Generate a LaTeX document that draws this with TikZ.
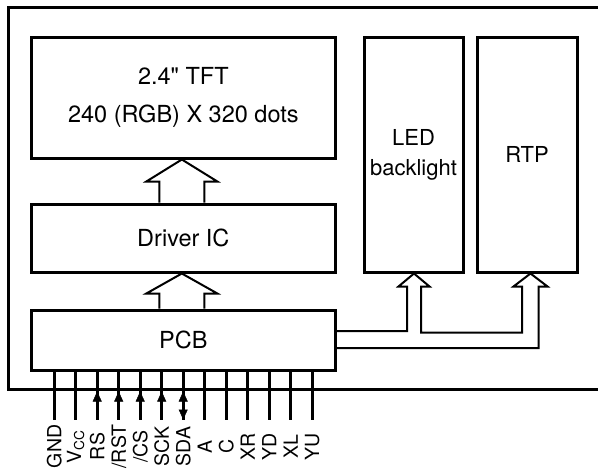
\documentclass[tikz,border=0pt]{standalone}
\usepackage{fontspec}
\setmainfont{TeX Gyre Heros}[Ligatures=TeXOff]
\usetikzlibrary{arrows.meta,calc}
\begin{document}
\begin{tikzpicture}[x=1pt,y=-1pt,
  box/.style={draw, line width=3pt, inner sep=0pt, align=center, font=\fontsize{23.5}{30}\selectfont},
  tallbox/.style={box, font=\fontsize{22}{30}\selectfont},
  pipe/.style={draw, line width=2pt, line join=miter},
  frameline/.style={line width=3pt, line join=miter},
  pinline/.style={line width=3pt},
  pinlab/.style={rotate=90, inner sep=0pt, font=\fontsize{19.5}{21}\selectfont},
  tri/.style={line width=0.5pt, -{Triangle[length=10pt,width=9pt]}}]
\fill[white] (0,0) rectangle (598,469);
\useasboundingbox (0,0) rectangle (598,469);
% outer frame
\draw[frameline] (598,7) -- (8,7) -- (8,389) -- (598,389);
% boxes
\node[box, minimum width=303.3pt, minimum height=121pt, font=\fontsize{23.5}{38.7}\selectfont] (tft) at (183.35,97.5) {2.4" TFT\\240 (RGB) X 320 dots};
\node[box, minimum width=303.3pt, minimum height=68pt] (drv) at (183.35,238) {Driver IC};
\node[box, minimum width=303.3pt, minimum height=60pt] (pcb) at (183.35,340) {PCB};
\node[tallbox, minimum width=99pt, minimum height=235pt] (led) at (413.5,154.5) {LED\\backlight};
\node[tallbox, minimum width=100pt, minimum height=235pt] (rtp) at (527,154.5) {RTP};
% hollow arrows
\draw[pipe] ($(drv.north)+(-24,0)$) |- ($(tft.south)+(-37,22)$) -- ($(tft.south)+(-1.5,0)$) -- ($(tft.south)+(34,22)$) -| ($(drv.north)+(21,0)$);
\draw[pipe] ($(pcb.north)+(-24,0)$) |- ($(drv.south)+(-37,20)$) -- ($(drv.south)+(-1.5,0)$) -- ($(drv.south)+(34,20)$) -| ($(pcb.north)+(21,0)$);
\draw[pipe] ($(pcb.east)+(0,-9)$) -| ($(led.south)+(-6.5,13)$)
  -- ($(led.south)+(-15,13)$) -- ($(led.south)+(0.5,0)$) -- ($(led.south)+(16,13)$)
  -- ($(led.south)+(7.5,13)$) |- ($(rtp.south)+(-5,59)$)
  -- ($(rtp.south)+(-5,13)$) -- ($(rtp.south)+(-13.5,13)$) -- ($(rtp.south)+(3.5,0)$)
  -- ($(rtp.south)+(20.5,13)$) -- ($(rtp.south)+(11.5,13)$) |- ($(pcb.east)+(0,8)$);
% pins
\foreach \lab [count=\i] in {GND,{V\textsubscript{CC}},RS,/RST,/CS,SCK,SDA,A,C,XR,YD,XL,YU} {
  \pgfmathsetmacro\px{24+21.5*(\i-1)}
  \coordinate (pt\i) at ($(pcb.south west)+(\px,0)$);
  \coordinate (pb\i) at ($(pt\i)+(0,48)$);
  \draw[pinline] (pt\i) -- (pb\i);
  \node[pinlab] (lab\i) at ($(pb\i)+(0,27)$) {\lab};
}
\foreach \i in {3,4,5,6,7} {
  \draw[tri] (pb\i) -- ($(pt\i)+(0,20)$);
}
\draw[tri] (pt7) -- (pb7);
\end{tikzpicture}
\end{document}
